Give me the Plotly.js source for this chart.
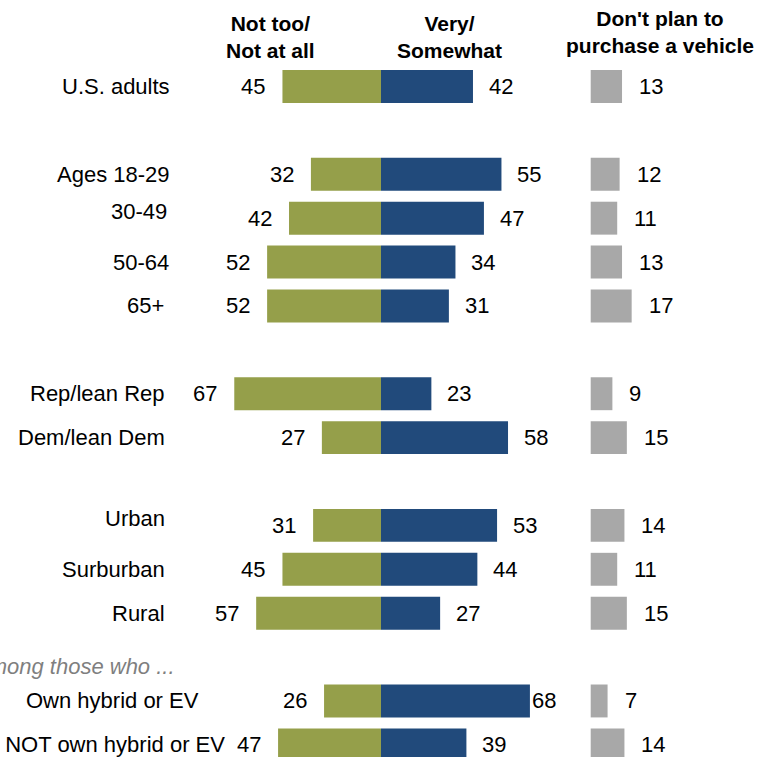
<!DOCTYPE html>
<html>
<head>
<meta charset="utf-8">
<script src="https://cdn.plot.ly/plotly-3.0.1.min.js"></script>
<style>
  html, body { margin: 0; padding: 0; background: #fff; }
  #chart { width: 765px; height: 757px; }
</style>
</head>
<body>
<div id="chart"></div>
<script>
// ---- Data ----
const categories = ["U.S. adults", "Ages 18-29", "30-49", "50-64", "65+",
  "Rep/lean Rep", "Dem/lean Dem", "Urban", "Surburban", "Rural",
  "Own hybrid or EV", "Do NOT own hybrid or EV"];
const notTooNotAtAll = [45, 32, 42, 52, 52, 67, 27, 31, 45, 57, 26, 47];
const verySomewhat   = [42, 55, 47, 34, 31, 23, 58, 53, 44, 27, 68, 39];
const dontPlan       = [13, 12, 11, 13, 17, 9, 15, 14, 11, 15, 7, 14];
const headerLeft  = "Not too/<br>Not at all";
const headerMid   = "Very/<br>Somewhat";
const headerRight = "Don't plan to<br>purchase a vehicle";
const groupNote   = "Among those who ...";

// ---- Layout helpers (positions / styles) ----
const W = 765, H = 757;
const gapsAfter = [0, 4, 6, 9];          // blank slot after these rows
const rowOrder = [];
categories.forEach((c, i) => {
  rowOrder.push(c);
  if (gapsAfter.includes(i)) rowOrder.push("__gap" + i);
});
const slotPx = 43.89, firstSlotPx = 86.5;
const yRange = [(H - firstSlotPx) / slotPx, -firstSlotPx / slotPx];

const mainCenterPx = 381, mainScale = 2.19;
const xRange = [-mainCenterPx / mainScale, (W - mainCenterPx) / mainScale];
const grayStartPx = 590.7, grayScale = 2.41;
const x2Range = [-grayStartPx / grayScale, (W - grayStartPx) / grayScale];

const labelRightPx = {"U.S. adults": 172, "Ages 18-29": 172, "30-49": 169, "50-64": 171,
  "65+": 166, "Own hybrid or EV": 201, "Do NOT own hybrid or EV": 227};
const labelYShift = {"30-49": 7, "Urban": 7};

const GREEN = "#959F4A", BLUE = "#214A7B", GRAY = "#A8A8A8";
const FONT = "Liberation Sans, Arial, sans-serif";
const txtFont = {family: FONT, size: 22, color: "#000"};
const hdrFont = {family: FONT, size: 21, color: "#000", weight: "bold"};

const traces = [
  {type: "bar", orientation: "h", y: categories, x: notTooNotAtAll.map(v => -v),
   marker: {color: GREEN}, width: 0.75, xaxis: "x", yaxis: "y", hoverinfo: "skip"},
  {type: "bar", orientation: "h", y: categories, x: verySomewhat,
   marker: {color: BLUE}, width: 0.75, xaxis: "x", yaxis: "y", hoverinfo: "skip"},
  {type: "bar", orientation: "h", y: categories, x: dontPlan,
   marker: {color: GRAY}, width: 0.75, xaxis: "x2", yaxis: "y", hoverinfo: "skip"}
];

const annotations = [];
categories.forEach((c, i) => {
  annotations.push({xref: "paper", yref: "y", x: (labelRightPx[c] || 167) / W, y: c,
    xanchor: "right", yanchor: "middle", text: c, showarrow: false, font: txtFont,
    yshift: labelYShift[c] || 0});
  annotations.push({xref: "x", yref: "y", x: -notTooNotAtAll[i], y: c,
    xanchor: "right", yanchor: "middle", text: String(notTooNotAtAll[i]),
    showarrow: false, font: txtFont, xshift: -15});
  annotations.push({xref: "x", yref: "y", x: verySomewhat[i], y: c,
    xanchor: "left", yanchor: "middle", text: String(verySomewhat[i]),
    showarrow: false, font: txtFont, xshift: verySomewhat[i] >= 65 ? 0 : 14});
  annotations.push({xref: "x2", yref: "y", x: dontPlan[i], y: c,
    xanchor: "left", yanchor: "middle", text: String(dontPlan[i]),
    showarrow: false, font: txtFont, xshift: 15});
});
annotations.push({xref: "paper", yref: "paper", x: 177 / W, y: 1 - 666 / H,
  xanchor: "right", yanchor: "middle", text: "<i>" + groupNote + "</i>", showarrow: false,
  font: {family: FONT, size: 22, color: "#7F7F7F"}});
annotations.push({xref: "paper", yref: "paper", x: 270 / W, y: 1 - 10 / H,
  xanchor: "center", yanchor: "top", text: headerLeft, showarrow: false, font: hdrFont});
annotations.push({xref: "paper", yref: "paper", x: 449 / W, y: 1 - 10 / H,
  xanchor: "center", yanchor: "top", text: headerMid, showarrow: false, font: hdrFont});
annotations.push({xref: "paper", yref: "paper", x: 660 / W, y: 1 - 5 / H,
  xanchor: "center", yanchor: "top", text: headerRight, showarrow: false, font: hdrFont});

const layout = {
  width: W, height: H,
  margin: {l: 0, r: 0, t: 0, b: 0, pad: 0},
  paper_bgcolor: "#fff", plot_bgcolor: "#fff",
  showlegend: false, barmode: "overlay",
  xaxis: {range: xRange, visible: false, fixedrange: true},
  xaxis2: {range: x2Range, overlaying: "x", visible: false, fixedrange: true},
  yaxis: {type: "category", categoryorder: "array", categoryarray: rowOrder,
          range: yRange, visible: false, fixedrange: true},
  annotations: annotations
};

Plotly.newPlot("chart", traces, layout, {displayModeBar: false, staticPlot: true});
</script>
</body>
</html>
